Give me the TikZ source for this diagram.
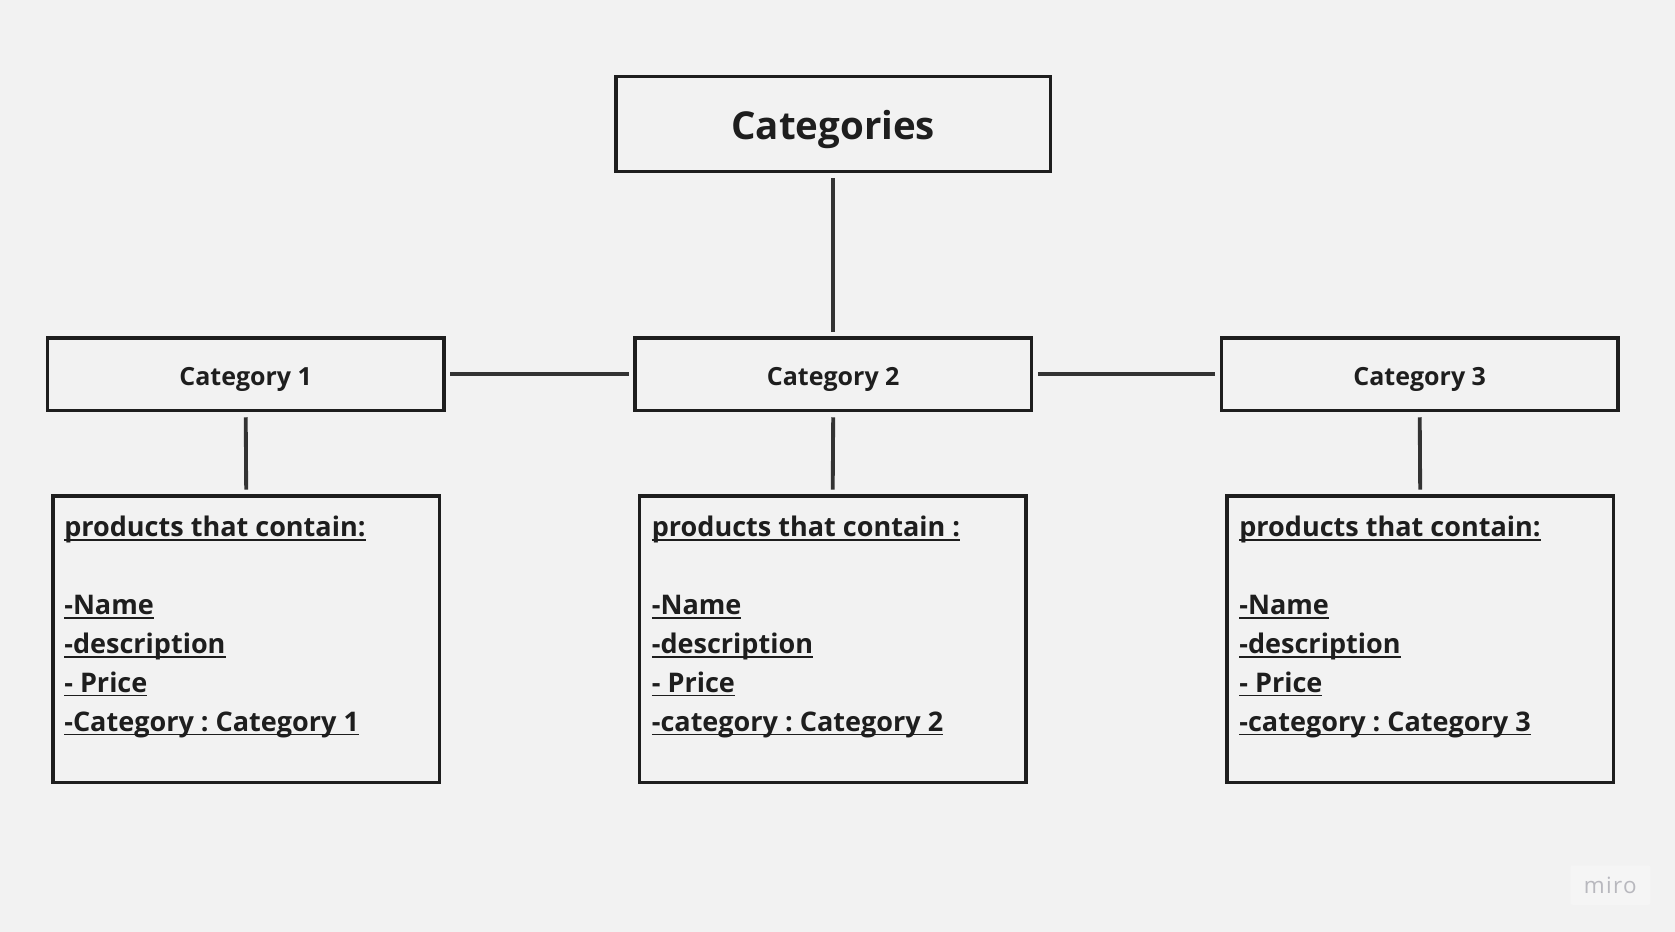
\documentclass[tikz,border=0pt]{standalone}
\usepackage{fontspec}
\setmainfont{Open Sans}
\frenchspacing
\definecolor{bgc}{HTML}{F2F2F2}
\definecolor{ink}{HTML}{1E1E1E}
\definecolor{linec}{HTML}{333333}
\definecolor{logobg}{HTML}{F5F5F5}
\definecolor{logoc}{HTML}{B8B8BE}
\newcommand{\myul}[1]{\leavevmode\setbox0=\hbox{#1}\rlap{\copy0}\rule[-4pt]{\wd0}{1.8pt}}
\newcommand{\plist}[2]{\begin{tabular}[t]{@{}l@{}}\myul{products that contain#1}\\ \\ \myul{-Name}\\ \myul{-description}\\ \myul{- Price}\\ \myul{#2}\end{tabular}}
\begin{document}
\begin{tikzpicture}[x=1pt,y=-1pt,
  box/.style={draw=ink,line width=3.2pt,rectangle,inner sep=0pt,text=ink},
  topbox/.style={box,minimum width=407pt,minimum height=89pt,font=\bfseries\fontsize{36}{44}\selectfont,text height=30pt,text depth=0pt},
  catbox/.style={box,minimum width=371pt,minimum height=68pt,font=\bfseries\fontsize{23.4}{30}\selectfont,text height=20pt,text depth=0pt},
  prodbox/.style={box,minimum width=362pt,minimum height=268pt},
  prodtext/.style={anchor=base west,inner sep=0pt,text=ink,font=\bfseries\fontsize{25.3}{36.5}\selectfont},
  conn/.style={draw=linec,line width=3.6pt,shorten <=4.5pt,shorten >=4.5pt}]
\fill[bgc] (0,0) rectangle (1568,872);
\useasboundingbox (0,0) rectangle (1568,872);
\node[topbox] (top) at (780,116) {Categories};
\node[catbox] (c1) at (230,350.5) {Category 1};
\node[catbox] (c2) at (780,350.5) {Category 2};
\node[catbox] (c3) at (1329,350.5) {Category 3};
\node[prodbox] (p1) at (230.5,598.5) {};
\node[prodbox] (p2) at (779.5,598.5) {};
\node[prodbox] (p3) at (1329.5,598.5) {};
\node[prodtext] (t1) at (60,502) {\plist{:}{-Category : Category 1}};
\node[prodtext] (t2) at (610,502) {\plist{ :}{-category : Category 2}};
\node[prodtext] (t3) at (1160,502) {\plist{:}{-category : Category 3}};
\draw[conn] (top.south) -- (c2.north);
\draw[conn] (c1.east) -- (c2.west);
\draw[conn] (c2.east) -- (c3.west);
\draw[conn] (c1.south) -- (p1.north);
\draw[conn] (c2.south) -- (p2.north);
\draw[conn] (c3.south) -- (p3.north);
\node[fill=logobg,rounded corners=2pt,minimum width=75pt,minimum height=37pt,inner sep=0pt,text=logoc,font=\addfontfeatures{LetterSpace=6}\fontsize{21}{24}\selectfont] (logo) at (1507.5,828.5) {miro};
\end{tikzpicture}
\end{document}
